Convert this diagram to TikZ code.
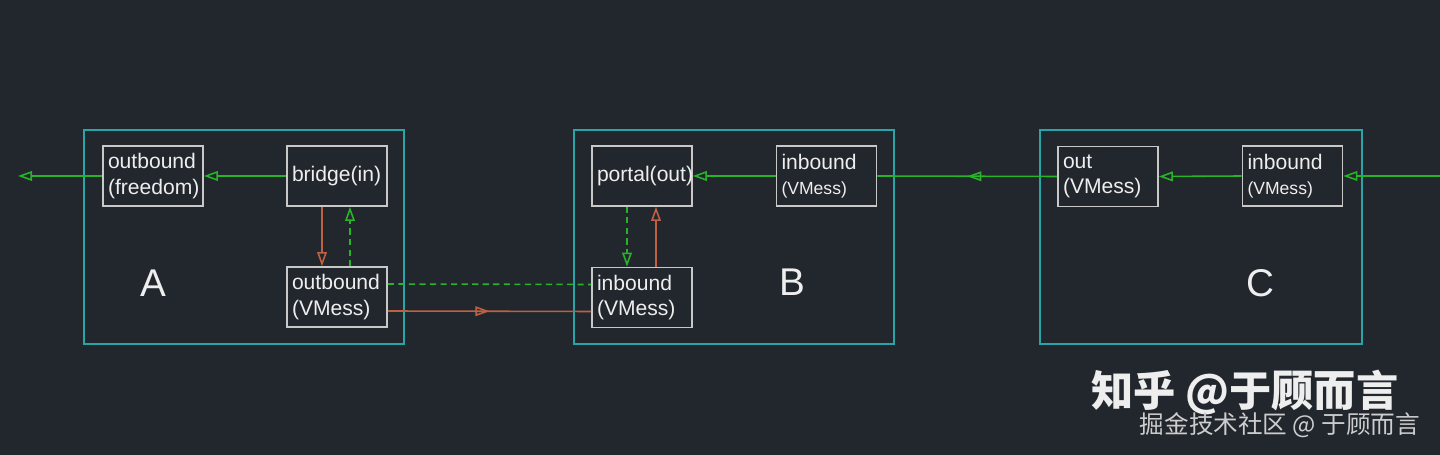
\documentclass[tikz,border=0pt]{standalone}
\usepackage{fontspec}
\setmainfont{Liberation Sans}
\newfontfamily\cjkfont{Noto Sans CJK SC}
\usetikzlibrary{positioning,arrows.meta,decorations.markings}
\definecolor{bgdark}{RGB}{34,39,46}
\definecolor{hostline}{RGB}{38,166,166}
\definecolor{unitline}{RGB}{200,200,200}
\definecolor{labeltext}{RGB}{238,238,238}
\definecolor{flowgreen}{RGB}{40,180,40}
\definecolor{floworange}{RGB}{192,96,66}
\definecolor{marktext}{RGB}{205,205,205}

\begin{document}
\begin{tikzpicture}[
  >={Triangle[open,length=8pt,width=5.5pt]},
  hostbox/.style={draw=hostline, line width=0.9pt, minimum width=6.4cm, minimum height=4.28cm},
  unitbox/.style={draw=unitline, line width=0.9pt, text=labeltext, font=\fontsize{12}{14.4}\selectfont, text width=1.8cm, inner sep=0.1cm, minimum height=1.2cm, align=left},
  hostlabel/.style={text=labeltext, font=\fontsize{22}{26}\selectfont},
  greenline/.style={draw=flowgreen, line width=0.9pt},
  dashline/.style={greenline, dash pattern=on 3.5pt off 2.5pt},
  orangeline/.style={draw=floworange, line width=0.9pt},
  midarrow/.style={postaction={decorate, decoration={markings, mark=at position 0.5 with {\arrow{>}}}}}
]
  \fill[bgdark] (0,0) rectangle (28.8,9.1);
  \useasboundingbox (0,0) rectangle (28.8,9.1);

  \node[hostbox] (hostA) at (4.88,4.36) {};
  \node[hostbox] (hostB) at (14.68,4.36) {};
  \node[hostbox, minimum width=6.44cm] (hostC) at (24.02,4.36) {};
  \node[hostlabel] (labA) at (3.06,3.44) {A};
  \node[hostlabel] (labB) at (15.84,3.46) {B};
  \node[hostlabel] (labC) at (25.20,3.44) {C};

  \node[unitbox] (freedom) at (3.06,5.58) {outbound\\(freedom)};
  \node[unitbox] (bridge) at (6.74,5.58) {bridge(in)};
  \node[unitbox] (vmA) at (6.74,3.16) {outbound\\(VMess)};
  \node[unitbox] (portal) at (12.84,5.58) {portal(out)};
  \node[unitbox] (inBup) at (16.53,5.58) {inbound\\{\fontsize{10}{12}\selectfont (VMess)}};
  \node[unitbox] (inBlow) at (12.84,3.15) {inbound\\(VMess)};
  \node[unitbox] (outC) at (22.16,5.57) {out\\(VMess)};
  \node[unitbox] (inC) at (25.85,5.58) {inbound\\{\fontsize{10}{12}\selectfont (VMess)}};

  \coordinate (exitL) at (0.36,5.58);
  \coordinate (entryR) at (28.8,5.58);

  \draw[greenline, ->] (freedom.west) -- (exitL);
  \draw[greenline, ->] (bridge.west) -- (freedom.east);
  \draw[orangeline, ->] ([xshift=-0.3cm]bridge.south) -- ([xshift=-0.3cm]vmA.north);
  \draw[dashline, ->] ([xshift=0.26cm]vmA.north) -- ([xshift=0.26cm]bridge.south);
  \draw[dashline] ([yshift=0.26cm]vmA.east) -- ([yshift=0.26cm]inBlow.west);
  \draw[orangeline, midarrow] ([yshift=-0.28cm]vmA.east) -- ([yshift=-0.28cm]inBlow.west);
  \draw[dashline, ->] ([xshift=-0.3cm]portal.south) -- ([xshift=-0.3cm]inBlow.north);
  \draw[orangeline, ->] ([xshift=0.28cm]inBlow.north) -- ([xshift=0.28cm]portal.south);
  \draw[greenline, ->] (inBup.west) -- (portal.east);
  \draw[greenline, midarrow] (outC.west) -- (inBup.east);
  \draw[greenline, ->] (inC.west) -- (outC.east);
  \draw[greenline, ->] (entryR) -- (inC.east);

  \node[text=labeltext, font=\cjkfont\bfseries\fontsize{24}{28}\selectfont] (markbig) at (24.9,1.24) {知乎 @于顾而言};
  \node[text=marktext, font=\cjkfont\fontsize{14}{16}\selectfont] (marksmall) at (25.6,0.60) {掘金技术社区 @ 于顾而言};
\end{tikzpicture}
\end{document}
